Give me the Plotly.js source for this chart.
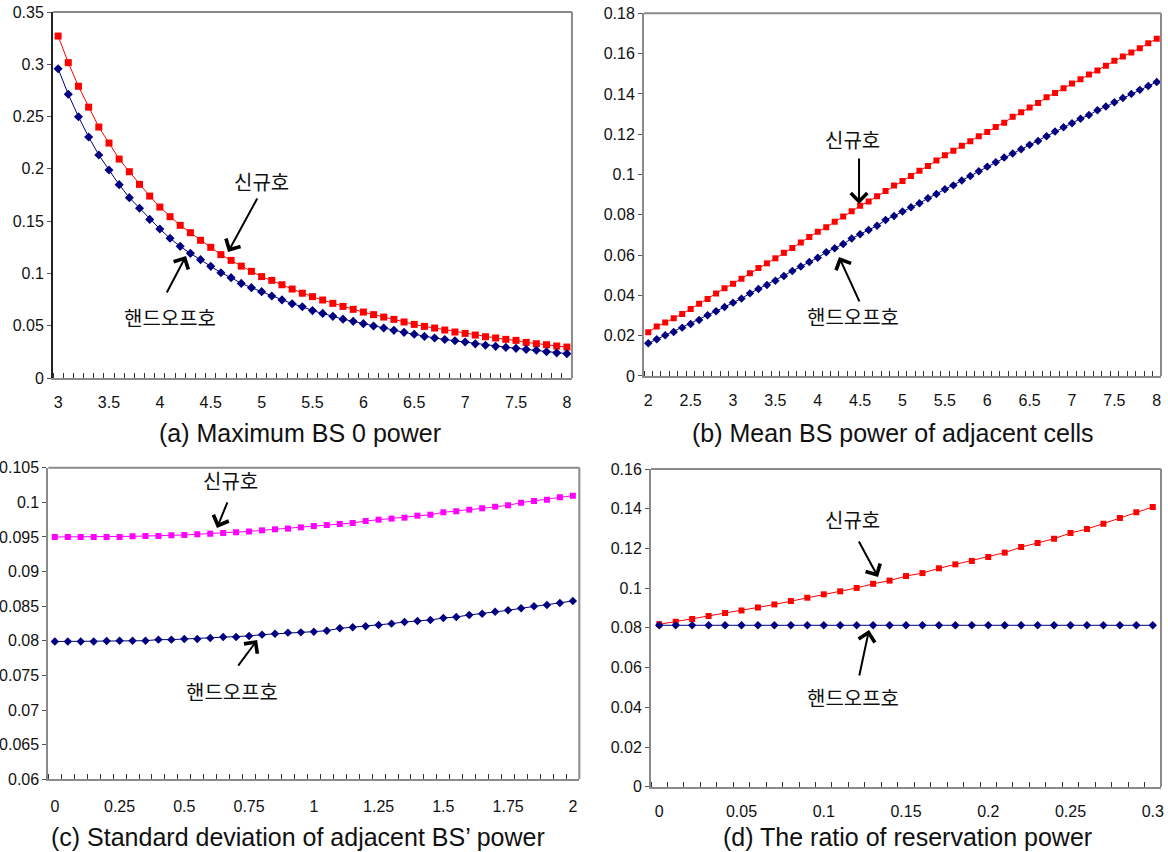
<!DOCTYPE html>
<html>
<head>
<meta charset="utf-8">
<script src="https://cdn.plot.ly/plotly-3.0.1.min.js"></script>
<style>
  html, body { margin: 0; padding: 0; background: #fff; }
  #chart { width: 1168px; height: 852px; }
</style>
</head>
<body>
<div id="chart"></div>
<script>
// ---- (a) Maximum BS 0 power ----
const catsA = [3.0,3.1,3.2,3.3,3.4,3.5,3.6,3.7,3.8,3.9,4.0,4.1,4.2,4.3,4.4,4.5,4.6,4.7,4.8,4.9,
  5.0,5.1,5.2,5.3,5.4,5.5,5.6,5.7,5.8,5.9,6.0,6.1,6.2,6.3,6.4,6.5,6.6,6.7,6.8,6.9,
  7.0,7.1,7.2,7.3,7.4,7.5,7.6,7.7,7.8,7.9,8.0];
const newA = [0.327,0.3016,0.279,0.259,0.240,0.2247,0.2094,0.1973,0.1852,0.174,
  0.1635,0.1543,0.146,0.139,0.1317,0.125,0.118,0.1125,0.107,0.102,
  0.097,0.0934,0.0892,0.0851,0.0811,0.0778,0.0746,0.0714,0.0685,0.0657,
  0.0631,0.0606,0.0583,0.0561,0.0536,0.0513,0.0494,0.0478,0.0459,0.044,
  0.0427,0.0411,0.0395,0.0383,0.037,0.036,0.0341,0.0328,0.0319,0.0306,0.0296];
const handA = [0.2958,0.2713,0.2499,0.2305,0.2133,0.1989,0.1849,0.1725,0.1623,0.1517,
  0.1425,0.1336,0.1259,0.1192,0.1132,0.1068,0.1007,0.096,0.0905,0.0864,
  0.0826,0.0784,0.0747,0.0711,0.0682,0.0645,0.0618,0.059,0.0563,0.0542,
  0.052,0.0497,0.0478,0.0456,0.0437,0.0418,0.0398,0.0383,0.0368,0.0356,
  0.0344,0.0327,0.0314,0.0303,0.0293,0.0284,0.0274,0.0265,0.0252,0.0241,0.0233];
const ticksXA = [3,3.5,4,4.5,5,5.5,6,6.5,7,7.5,8];

// ---- (b) Mean BS power of adjacent cells ----
const catsB = [2.0,2.1,2.2,2.3,2.4,2.5,2.6,2.7,2.8,2.9,3.0,3.1,3.2,3.3,3.4,3.5,3.6,3.7,3.8,3.9,
  4.0,4.1,4.2,4.3,4.4,4.5,4.6,4.7,4.8,4.9,5.0,5.1,5.2,5.3,5.4,5.5,5.6,5.7,5.8,5.9,
  6.0,6.1,6.2,6.3,6.4,6.5,6.6,6.7,6.8,6.9,7.0,7.1,7.2,7.3,7.4,7.5,7.6,7.7,7.8,7.9,8.0];
const newB = [0.0217,0.0245,0.0265,0.0286,0.0308,0.0333,0.0359,0.0382,0.0409,0.0435,
  0.0458,0.0483,0.051,0.0536,0.0559,0.0584,0.0611,0.0635,0.0663,0.069,
  0.0716,0.0738,0.0766,0.0791,0.0817,0.0845,0.0866,0.0892,0.0918,0.0945,
  0.0968,0.0993,0.1019,0.1042,0.1069,0.1095,0.1118,0.1143,0.1165,0.119,
  0.1211,0.1236,0.1257,0.1286,0.1309,0.1332,0.1355,0.1383,0.1405,0.1428,
  0.1451,0.1473,0.1496,0.1516,0.154,0.1564,0.1585,0.1605,0.1626,0.1651,0.1674];
const handB = [0.0162,0.0182,0.0202,0.0218,0.024,0.0258,0.0278,0.0301,0.0321,0.0342,
  0.0364,0.0384,0.041,0.0432,0.0452,0.0473,0.0496,0.0521,0.0543,0.0566,
  0.0587,0.0614,0.0634,0.0655,0.0682,0.0703,0.0725,0.0746,0.0774,0.0794,
  0.0816,0.0837,0.0857,0.0882,0.0903,0.0927,0.0946,0.097,0.0993,0.1016,
  0.1039,0.1061,0.1084,0.1104,0.1125,0.1147,0.1166,0.119,0.1213,0.1234,
  0.1254,0.1277,0.1295,0.1319,0.1337,0.1358,0.138,0.14,0.142,0.1439,0.1459];
const ticksXB = [2,2.5,3,3.5,4,4.5,5,5.5,6,6.5,7,7.5,8];

// ---- (c) Standard deviation of adjacent BS' power ----
const catsC = [0,0.05,0.1,0.15,0.2,0.25,0.3,0.35,0.4,0.45,0.5,0.55,0.6,0.65,0.7,0.75,0.8,0.85,0.9,0.95,
  1.0,1.05,1.1,1.15,1.2,1.25,1.3,1.35,1.4,1.45,1.5,1.55,1.6,1.65,1.7,1.75,1.8,1.85,1.9,1.95,2.0];
const newC = [0.0950,0.0950,0.0950,0.0950,0.0950,0.0950,0.09508,0.09513,0.09513,0.09523,
  0.09528,0.09537,0.09547,0.09557,0.09566,0.0958,0.09595,0.0961,0.0962,0.09638,
  0.09658,0.09672,0.09687,0.09701,0.0973,0.09749,0.09764,0.09778,0.09807,0.09821,
  0.09855,0.0987,0.09894,0.09913,0.09937,0.09956,0.09995,0.10019,0.10038,0.10072,0.10096];
const handC = [0.0799,0.0799,0.0799,0.0799,0.07997,0.0800,0.0800,0.08002,0.08017,0.08017,
  0.08026,0.08026,0.08041,0.08055,0.08055,0.0807,0.08089,0.08103,0.08118,0.08122,
  0.08132,0.08146,0.0818,0.08195,0.08209,0.08228,0.08248,0.08272,0.08286,0.08301,
  0.08329,0.08344,0.08373,0.08392,0.08421,0.0844,0.08469,0.08498,0.08517,0.08546,0.08575];
const ticksXC = [0,0.25,0.5,0.75,1,1.25,1.5,1.75,2];

// ---- (d) The ratio of reservation power ----
const catsD = [0,0.01,0.02,0.03,0.04,0.05,0.06,0.07,0.08,0.09,0.1,0.11,0.12,0.13,0.14,0.15,
  0.16,0.17,0.18,0.19,0.2,0.21,0.22,0.23,0.24,0.25,0.26,0.27,0.28,0.29,0.3];
const newD = [0.0818,0.0831,0.0845,0.086,0.0875,0.0888,0.0903,0.0918,0.0935,0.0952,
  0.0969,0.0984,0.1001,0.1022,0.1038,0.1061,0.1076,0.11,0.112,0.1137,
  0.1157,0.1179,0.1207,0.1227,0.1249,0.1278,0.1298,0.1325,0.1353,0.1382,0.1409];
const handD = [0.0813,0.0813,0.0813,0.0813,0.0813,0.0813,0.0813,0.0813,0.0813,0.0813,
  0.0813,0.0813,0.0813,0.0813,0.0813,0.0813,0.0813,0.0813,0.0813,0.0813,
  0.0813,0.0813,0.0813,0.0813,0.0813,0.0813,0.0813,0.0813,0.0813,0.0813,0.0813];
const ticksXD = [0,0.05,0.1,0.15,0.2,0.25,0.3];

const NEW = '신규호';
const HAND = '핸드오프호';
const captions = [
  '(a) Maximum BS 0 power',
  '(b) Mean BS power of adjacent cells',
  '(c) Standard deviation of adjacent BS\u2019 power',
  '(d) The ratio of reservation power'
];

const FONT = 'Liberation Sans, Arial, sans-serif';
const KFONT = 'Noto Sans CJK KR, sans-serif';
const RED = '#ff0000', NAVY = '#000080', MAGENTA = '#ff00ff';

// category step and boundaries (tick marks sit between categories)
function stepOf(c) { return c[1] - c[0]; }
function bounds(c) {
  const s = stepOf(c);
  return c.map(v => v - s / 2).concat([c[c.length - 1] + s / 2]);
}
function xRange(c) {
  const s = stepOf(c);
  return [c[0] - s / 2, c[c.length - 1] + s / 2];
}

function lineTrace(x, y, xa, ya, color, symbol, size) {
  return {
    x: x, y: y, xaxis: xa, yaxis: ya, type: 'scatter', mode: 'lines+markers',
    line: { color: color, width: 1 },
    marker: { color: color, symbol: symbol, size: size, line: { width: 0 } },
    showlegend: false, hoverinfo: 'skip'
  };
}

const data = [
  lineTrace(catsA, newA, 'x', 'y', RED, 'square', 7),
  lineTrace(catsA, handA, 'x', 'y', NAVY, 'diamond', 7),
  lineTrace(catsB, newB, 'x2', 'y2', RED, 'square', 6),
  lineTrace(catsB, handB, 'x2', 'y2', NAVY, 'diamond', 6.5),
  lineTrace(catsC, newC, 'x3', 'y3', MAGENTA, 'square', 6),
  lineTrace(catsC, handC, 'x3', 'y3', NAVY, 'diamond', 6.5),
  lineTrace(catsD, newD, 'x4', 'y4', RED, 'square', 6),
  lineTrace(catsD, handD, 'x4', 'y4', NAVY, 'diamond', 6.5)
];

function xAxis(cats, tv, domain, anchor, standoff) {
  return {
    domain: domain, anchor: anchor, range: xRange(cats), fixedrange: true,
    tickmode: 'array', tickvals: tv, ticks: '', ticklabelstandoff: standoff,
    tickfont: { family: FONT, size: 16, color: '#111' },
    showgrid: false, zeroline: false,
    showline: true, linecolor: '#8a8a8a', linewidth: 2,
    minor: { tickmode: 'array', tickvals: bounds(cats), ticks: 'inside',
             ticklen: 5, tickwidth: 1, tickcolor: '#333', showgrid: false }
  };
}
function yAxis(range, dtick, domain, anchor, lineColor) {
  return {
    domain: domain, anchor: anchor, range: range, dtick: dtick, tick0: range[0],
    fixedrange: true, ticks: 'outside', ticklen: 4, tickwidth: 1, tickcolor: '#555',
    tickfont: { family: FONT, size: 16, color: '#111' },
    showgrid: false, zeroline: false,
    showline: true, linecolor: lineColor, linewidth: 2
  };
}

const layout = {
  width: 1168, height: 852,
  margin: { l: 0, r: 0, t: 0, b: 0 },
  paper_bgcolor: '#fff', plot_bgcolor: '#fff',
  showlegend: false,
  xaxis:  xAxis(catsA, ticksXA, [0.0454, 0.4897], 'y', 9),
  yaxis:  yAxis([0, 0.35], 0.05, [0.5563, 0.9859], 'x', '#222'),
  xaxis2: xAxis(catsB, ticksXB, [0.5514, 0.9940], 'y2', 9),
  yaxis2: yAxis([0, 0.18], 0.02, [0.5587, 0.9844], 'x2', '#8a8a8a'),
  xaxis3: xAxis(catsC, ticksXC, [0.0414, 0.4960], 'y3', 11),
  yaxis3: yAxis([0.06, 0.105], 0.005, [0.0853, 0.4511], 'x3', '#8a8a8a'),
  xaxis4: xAxis(catsD, ticksXD, [0.5574, 0.9940], 'y4', 9),
  yaxis4: yAxis([0, 0.16], 0.02, [0.0766, 0.4495], 'x4', '#8a8a8a'),
  shapes: [],
  annotations: []
};

// top and right frame edges of each plot area
[['x', 'y'], ['x2', 'y2'], ['x3', 'y3'], ['x4', 'y4']].forEach(([xa, ya]) => {
  layout.shapes.push({ type: 'line', xref: xa + ' domain', yref: ya + ' domain',
    x0: 0, x1: 1, y0: 1, y1: 1, line: { color: '#8a8a8a', width: 2 } });
  layout.shapes.push({ type: 'line', xref: xa + ' domain', yref: ya + ' domain',
    x0: 1, x1: 1, y0: 0, y1: 1, line: { color: '#8a8a8a', width: 2 } });
});

// series labels with pointer arrows
function label(xa, ya, text, tx, ty, hx, hy, ax, ay) {
  layout.annotations.push({ xref: xa, yref: ya, x: tx, y: ty, text: text, showarrow: false,
    font: { family: KFONT, size: 20, color: '#111' } });
  layout.annotations.push({ xref: xa, yref: ya, x: hx, y: hy, text: '', showarrow: true,
    ax: ax, ay: ay, arrowhead: 4, arrowsize: 1.6, arrowwidth: 2, arrowcolor: '#000', standoff: 0 });
}
label('x', 'y', NEW, 5.00, 0.1884, 4.67, 0.1205, 30, -55);
label('x', 'y', HAND, 4.10, 0.0583, 4.257, 0.1167, -20, 38);
label('x2', 'y2', NEW, 4.404, 0.1176, 4.487, 0.0854, 0, -47);
label('x2', 'y2', HAND, 4.416, 0.0293, 4.251, 0.0591, 21, 46);
label('x3', 'y3', NEW, 0.680, 0.1031, 0.626, 0.0963, 11, -27);
label('x3', 'y3', HAND, 0.684, 0.07275, 0.781, 0.0801, -20, 27);
label('x4', 'y4', NEW, 0.1172, 0.1348, 0.133, 0.1056, -20, -37);
label('x4', 'y4', HAND, 0.1178, 0.0447, 0.1275, 0.0789, -10, 47);

// panel captions
const capPos = [[300, 433], [893, 433], [298, 837], [907, 837]];
captions.forEach((t, i) => {
  layout.annotations.push({ xref: 'paper', yref: 'paper',
    x: capPos[i][0] / 1168, y: 1 - capPos[i][1] / 852, xanchor: 'center', yanchor: 'middle',
    text: t, showarrow: false, font: { family: FONT, size: 25, color: '#111' } });
});

Plotly.newPlot('chart', data, layout, { staticPlot: true, displayModeBar: false });
</script>
</body>
</html>
